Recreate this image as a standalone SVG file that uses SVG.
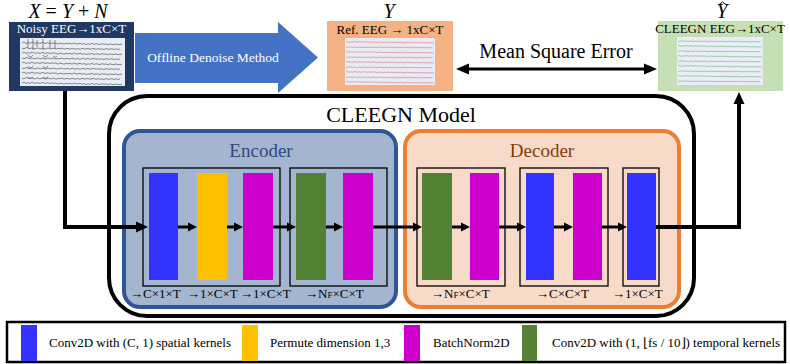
<svg xmlns="http://www.w3.org/2000/svg" xmlns:xlink="http://www.w3.org/1999/xlink" width="790" height="364" viewBox="0 0 790 364">
<style>
  text { font-family: "Liberation Serif", "Times New Roman", serif; }
  .math { font-style: italic; font-size: 20px; fill: #000; }
  .title { font-size: 13px; }
  .lbl { font-size: 13px; fill: #000; }
  .leg { font-size: 13px; fill: #000; }
  .inner { fill: none; stroke: #000; stroke-width: 1.3; }
  .blue { fill: #3333ff; }
  .yellow { fill: #ffc000; }
  .mag { fill: #cc00cc; }
  .green { fill: #548235; }
  .conn { fill: none; stroke: #000; stroke-width: 3; }
  .main { fill: none; stroke: #000; stroke-width: 4; }
  .trN { fill: none; stroke: #555a66; stroke-width: 0.7; }
  .trR { fill: none; stroke: #e05a6a; stroke-width: 0.7; }
  .trG { fill: none; stroke: #4aa860; stroke-width: 0.7; }
</style>
<defs>
  <path id="trA" d="M0,0 l2,-1 2,1.5 2,-0.8 2,0.6 2,-1.2 2,0.9 2,0.3 2,-0.7 2,1.1 2,-1.4 2,0.8 2,0.2 2,-0.6 2,1 2,-0.9 2,0.5 2,-0.3 2,1.2 2,-1.1 2,0.4 2,0.7 2,-1 2,0.6 2,-0.5 2,0.9 2,-1.3 2,1.1 2,-0.2 2,-0.4 2,0.8 2,-0.7 2,1 2,-0.6 2,0.3 2,-0.9 2,1.2 2,-0.8 2,0.4 2,0.5 2,-1 2,0.7 2,-0.3 2,0.9 2,-1.1 2,0.6 2,0.2 2,-0.8 2,1 2,-0.5 2,0.1"/>
  <path id="trB" d="M0,0 l2,0.8 2,-1.2 2,0.5 2,0.6 2,-0.9 2,1.1 2,-0.4 2,-0.6 2,1 2,-0.7 2,0.3 2,0.5 2,-1.1 2,0.9 2,-0.2 2,-0.5 2,1.2 2,-0.9 2,0.3 2,-0.6 2,1 2,-0.4 2,-0.3 2,0.8 2,-1 2,0.6 2,0.4 2,-0.8 2,1.1 2,-1.2 2,0.5 2,0.2 2,-0.6 2,0.9 2,-0.5 2,-0.4 2,1 2,-0.8 2,0.6 2,-0.3 2,0.7 2,-1.1 2,0.8 2,-0.2 2,-0.5 2,1 2,-0.7 2,0.4 2,-0.1"/>
  <marker id="ah" markerUnits="userSpaceOnUse" markerWidth="10" markerHeight="10" viewBox="0 0 10 10" refX="1" refY="5" orient="auto">
    <path d="M0,0.5 L9,5 L0,9.5 z" fill="#000"/>
  </marker>
  <marker id="ahL" markerUnits="userSpaceOnUse" markerWidth="13" markerHeight="12" viewBox="0 0 13 12" refX="1" refY="6" orient="auto">
    <path d="M0,0.5 L12,6 L0,11.5 z" fill="#000"/>
  </marker>
  <marker id="ahS" markerUnits="userSpaceOnUse" markerWidth="14" markerHeight="12" viewBox="0 0 14 12" refX="1" refY="6" orient="auto-start-reverse">
    <path d="M0,0.5 L13,6 L0,11.5 z" fill="#000"/>
  </marker>
</defs>

<!-- Noisy EEG -->
<g id="noisy">
  <text class="math" x="68" y="18" text-anchor="middle">X <tspan font-style="normal">=</tspan> Y <tspan font-style="normal">+</tspan> N</text>
  <rect x="9" y="22" width="125" height="69" fill="#203864"/>
  <text class="title" x="71.5" y="33" text-anchor="middle" fill="#fff" font-size="13.5">Noisy EEG→1xC×T</text>
  <rect x="20" y="38" width="105" height="48" fill="#e9ecf3"/>
  <g class="trN">
    <use xlink:href="#trA" transform="translate(22,43)"/>
    <use xlink:href="#trB" transform="translate(22,48)"/>
    <use xlink:href="#trA" transform="translate(22,53)"/>
    <use xlink:href="#trB" transform="translate(22,58)"/>
    <use xlink:href="#trA" transform="translate(22,63)"/>
    <use xlink:href="#trB" transform="translate(22,68)"/>
    <use xlink:href="#trA" transform="translate(22,73)"/>
    <use xlink:href="#trB" transform="translate(22,78)"/>
    <use xlink:href="#trA" transform="translate(22,83)"/>
    <path d="M28,39 V48 M33,39 V50 M37,40 V47 M43,39 V50 M50,40 V48 M55,40 V49 M28,55 q2,4 5,0 M43,55 q2,4 5,0 M53,56 q2,3 4,0 M28,66 q2,4 5,0 M43,66 q2,4 5,0 M28,77 q2,3 5,0 M43,77 q2,3 5,0"/>
  </g>
</g>

<!-- Offline Denoise Method arrow -->
<g id="denoise">
  <polygon points="135,33 278,33 278,22 318,57.5 278,93 278,83 135,83" fill="#4472c4"/>
  <text x="213" y="62" text-anchor="middle" fill="#fff" font-size="13.5">Offline Denoise Method</text>
</g>

<!-- Reference EEG -->
<g id="ref">
  <text class="math" x="389" y="18" text-anchor="middle">Y</text>
  <rect x="327" y="21" width="126" height="70" fill="#f4b183"/>
  <text class="title" x="390" y="34" text-anchor="middle" fill="#000">Ref. EEG → 1xC×T</text>
  <rect x="345" y="38" width="90" height="47" fill="#e8ebf3"/>
  <g class="trR">
    <use xlink:href="#trA" transform="translate(346,42) scale(0.88,0.6)"/>
    <use xlink:href="#trB" transform="translate(346,47) scale(0.88,0.6)"/>
    <use xlink:href="#trA" transform="translate(346,52) scale(0.88,0.6)"/>
    <use xlink:href="#trB" transform="translate(346,57) scale(0.88,0.6)"/>
    <use xlink:href="#trA" transform="translate(346,62) scale(0.88,0.6)"/>
    <use xlink:href="#trB" transform="translate(346,67) scale(0.88,0.6)"/>
    <use xlink:href="#trA" transform="translate(346,72) scale(0.88,0.6)"/>
    <use xlink:href="#trB" transform="translate(346,77) scale(0.88,0.6)"/>
    <use xlink:href="#trA" transform="translate(346,82) scale(0.88,0.6)"/>
  </g>
</g>

<!-- CLEEGN output -->
<g id="cleegn-out">
  <text class="math" x="722" y="18" text-anchor="middle">Y</text>
  <path d="M718.5,5 L722.5,2 L726.5,5" fill="none" stroke="#000" stroke-width="1"/>
  <rect x="658" y="21" width="125" height="70" fill="#c5e0b4"/>
  <text class="title" x="720" y="33" text-anchor="middle" fill="#000" font-size="12">CLEEGN EEG→1xC×T</text>
  <rect x="677" y="37" width="86" height="48" fill="#eaedf5"/>
  <g class="trG">
    <use xlink:href="#trB" transform="translate(678,41) scale(0.84,0.6)"/>
    <use xlink:href="#trA" transform="translate(678,46) scale(0.84,0.6)"/>
    <use xlink:href="#trB" transform="translate(678,51) scale(0.84,0.6)"/>
    <use xlink:href="#trA" transform="translate(678,56) scale(0.84,0.6)"/>
    <use xlink:href="#trB" transform="translate(678,61) scale(0.84,0.6)"/>
    <use xlink:href="#trA" transform="translate(678,66) scale(0.84,0.6)"/>
    <use xlink:href="#trB" transform="translate(678,71) scale(0.84,0.6)"/>
    <use xlink:href="#trA" transform="translate(678,76) scale(0.84,0.6)"/>
    <use xlink:href="#trB" transform="translate(678,81) scale(0.84,0.6)"/>
  </g>
</g>

<!-- CLEEGN Model -->
<g id="model">
  <rect x="109" y="96" width="585" height="220" rx="38" ry="38" fill="#fff" stroke="#000" stroke-width="4"/>
  <text x="401" y="122" text-anchor="middle" font-size="22">CLEEGN Model</text>
</g>

<g id="encoder">
  <rect x="124" y="131" width="272" height="176" rx="16" ry="16" fill="#a4b5d0" stroke="#2f5597" stroke-width="4"/>
  <text x="261" y="157" text-anchor="middle" font-size="19" fill="#2c4a7c">Encoder</text>
  <rect class="inner" x="143" y="168" width="137" height="118"/>
  <rect class="inner" x="290" y="168" width="97" height="118"/>
</g>

<g id="decoder">
  <rect x="405" y="131" width="274" height="176" rx="16" ry="16" fill="#f8dac9" stroke="#ed7d31" stroke-width="4"/>
  <text x="542" y="157" text-anchor="middle" font-size="19" fill="#843c0c">Decoder</text>
  <rect class="inner" x="417" y="168" width="88" height="118"/>
  <rect class="inner" x="520" y="168" width="88" height="118"/>
  <rect class="inner" x="623" y="168" width="36" height="118"/>
</g>

<!-- layers -->
<g id="enc-spatial"><rect class="blue" x="149" y="173" width="29" height="107"/></g>
<g id="enc-permute"><rect class="yellow" x="197" y="173" width="30" height="107"/></g>
<g id="enc-bn1"><rect class="mag" x="243" y="173" width="30" height="107"/></g>
<g id="enc-temporal"><rect class="green" x="296" y="173" width="30" height="107"/></g>
<g id="enc-bn2"><rect class="mag" x="343" y="173" width="30" height="107"/></g>
<g id="dec-temporal"><rect class="green" x="422" y="173" width="30" height="107"/></g>
<g id="dec-bn1"><rect class="mag" x="470" y="173" width="29" height="107"/></g>
<g id="dec-spatial1"><rect class="blue" x="526" y="173" width="28" height="107"/></g>
<g id="dec-bn2"><rect class="mag" x="573" y="173" width="29" height="107"/></g>
<g id="dec-spatial2"><rect class="blue" x="627" y="173" width="29" height="107"/></g>

<!-- shape labels -->
<g id="labels">
  <text class="lbl" x="130" y="298">→C×1×T</text>
  <text class="lbl" x="187" y="298">→1×C×T</text>
  <text class="lbl" x="240" y="298">→1×C×T</text>
  <text class="lbl" x="305" y="298">→N<tspan font-size="9">F</tspan>×C×T</text>
  <text class="lbl" x="431" y="298">→N<tspan font-size="9">F</tspan>×C×T</text>
  <text class="lbl" x="536" y="298">→C×C×T</text>
  <text class="lbl" x="612" y="298">→1×C×T</text>
</g>

<!-- MSE -->
<g id="mse">
  <text x="556" y="58" text-anchor="middle" font-size="20">Mean Square Error</text>
</g>

<!-- connectors -->
<g id="connectors">
  <path class="main" d="M65,91 V227 H137" marker-end="url(#ahL)"/>
  <path class="conn" d="M178,227 H189" marker-end="url(#ah)"/>
  <path class="conn" d="M227,227 H235" marker-end="url(#ah)"/>
  <path class="conn" d="M273,227 H288" marker-end="url(#ah)"/>
  <path class="conn" d="M326,227 H335" marker-end="url(#ah)"/>
  <path class="conn" d="M373,227 H414" marker-end="url(#ah)"/>
  <path class="conn" d="M452,227 H462" marker-end="url(#ah)"/>
  <path class="conn" d="M499,227 H518" marker-end="url(#ah)"/>
  <path class="conn" d="M554,227 H565" marker-end="url(#ah)"/>
  <path class="conn" d="M602,227 H619" marker-end="url(#ah)"/>
  <path class="main" d="M656,227 H739 V103" marker-end="url(#ahL)"/>
  <path class="conn" d="M468,69 H645" marker-start="url(#ahS)" marker-end="url(#ahS)"/>
</g>

<!-- legend -->
<g id="legend">
  <rect x="7" y="322" width="778" height="40" fill="#fff" stroke="#000" stroke-width="2.5"/>
  <rect class="blue" x="21" y="325" width="16" height="36"/>
  <text class="leg" x="49" y="347">Conv2D with (C, 1) spatial kernels</text>
  <rect class="yellow" x="242" y="325" width="16" height="36"/>
  <text class="leg" x="270" y="347">Permute dimension 1,3</text>
  <rect class="mag" x="404" y="325" width="16" height="36"/>
  <text class="leg" x="433" y="347">BatchNorm2D</text>
  <rect class="green" x="522" y="325" width="15" height="36"/>
  <text class="leg" x="552" y="347">Conv2D with (1, ⌊fs / 10⌋) temporal kernels</text>
</g>
</svg>
